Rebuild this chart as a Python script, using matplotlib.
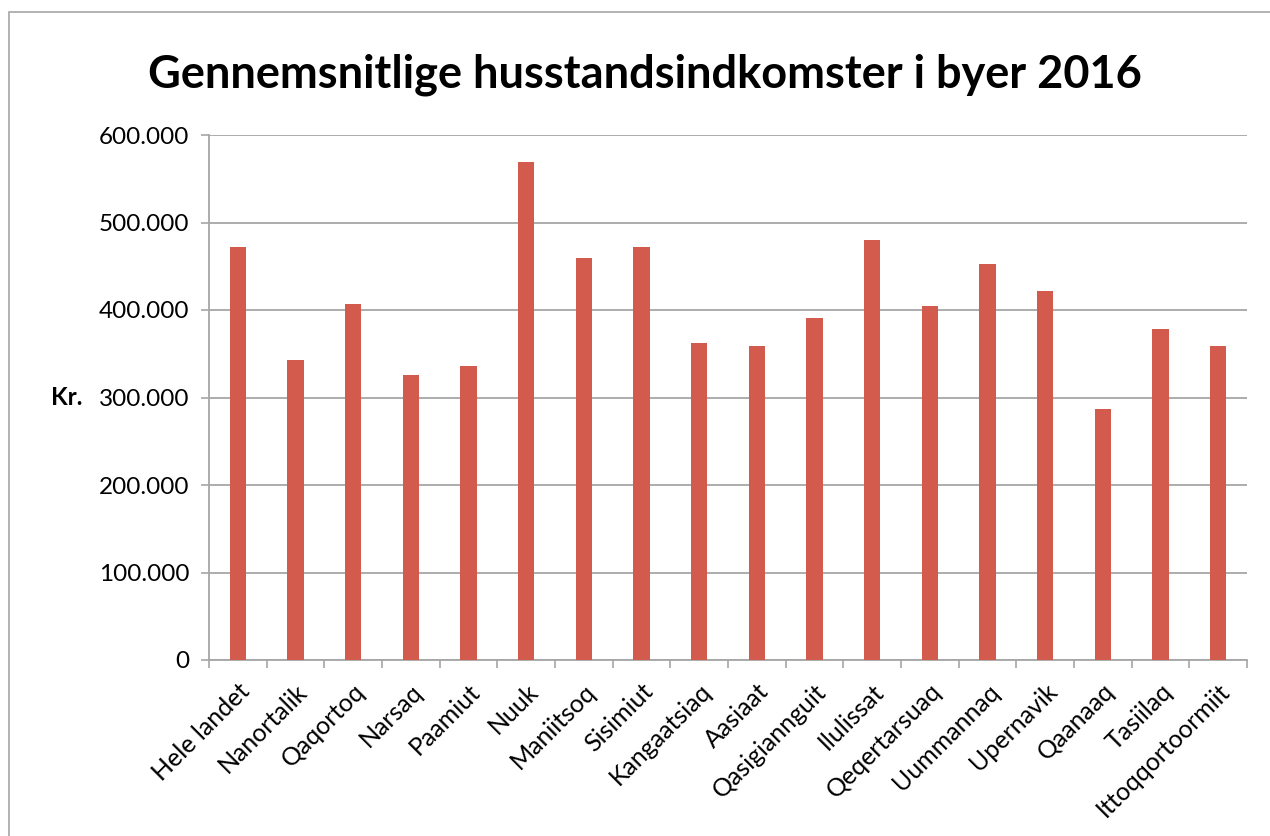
import numpy as np
import matplotlib.pyplot as plt
import matplotlib.transforms as mtransforms
from matplotlib.patches import Rectangle

plt.rcParams['font.family'] = ['Lato', 'DejaVu Sans']

byer = ['Hele landet', 'Nanortalik', 'Qaqortoq', 'Narsaq', 'Paamiut', 'Nuuk',
        'Maniitsoq', 'Sisimiut', 'Kangaatsiaq', 'Aasiaat', 'Qasigiannguit',
        'Ilulissat', 'Qeqertarsuaq', 'Uummannaq', 'Upernavik', 'Qaanaaq',
        'Tasiilaq', 'Ittoqqortoormiit']
indkomst = [472000, 343000, 407000, 326000, 336000, 569000,
            459000, 472000, 362000, 359000, 391000,
            480000, 405000, 453000, 422000, 287000,
            378000, 359000]
y_ticks = [0, 100000, 200000, 300000, 400000, 500000, 600000]
y_labels = ['0', '100.000', '200.000', '300.000', '400.000', '500.000', '600.000']

fig = plt.figure(figsize=(12.7, 8.36), dpi=100)
ax = fig.add_axes([209 / 1270, 1 - 660 / 836, 1038 / 1270, 525 / 836])

# thin frame around the whole chart (only left and top show)
fig.patches.append(Rectangle((9 / 1270, -0.1), 1.2, 1 - 12 / 836 + 0.1,
                             transform=fig.transFigure, fill=False,
                             edgecolor='#a6a6a6', linewidth=1.2))

x = np.arange(len(byer))
ax.bar(x, indkomst, width=0.28, color='#d35b4d', zorder=3)

ax.set_xlim(-0.5, len(byer) - 0.5)
ax.set_ylim(0, 600000)
ax.set_yticks(y_ticks)
ax.set_yticklabels(y_labels, fontsize=17.5)
ax.grid(axis='y', color='#a6a6a6', linewidth=1.3, zorder=0)

ax.set_xticks(x)
ax.set_xticklabels(byer, fontsize=18, rotation=45, ha='right', va='top',
                   rotation_mode='anchor')
shift = mtransforms.ScaledTranslation(0.14, 0, fig.dpi_scale_trans)
for lbl in ax.get_xticklabels():
    lbl.set_transform(lbl.get_transform() + shift)
ax.set_xticks(np.arange(len(byer) + 1) - 0.5, minor=True)
ax.tick_params(axis='x', which='major', length=0, pad=14)
ax.tick_params(axis='x', which='minor', length=6, color='#a6a6a6', width=1.2)
ax.tick_params(axis='y', length=6, color='#a6a6a6', width=1.2, pad=8)

for side in ['top', 'right']:
    ax.spines[side].set_visible(False)
for side in ['left', 'bottom']:
    ax.spines[side].set_color('#a6a6a6')
    ax.spines[side].set_linewidth(1.3)

ax.set_ylabel('Kr.', rotation=0, fontsize=17.5, fontweight='bold', va='center')
ax.yaxis.set_label_coords(-0.137, 0.5)

fig.text(0.508, 1 - 75 / 836, 'Gennemsnitlige husstandsindkomster i byer 2016',
         ha='center', va='center', fontsize=32.5, fontweight='bold')

fig.savefig('out.png', dpi=100)
